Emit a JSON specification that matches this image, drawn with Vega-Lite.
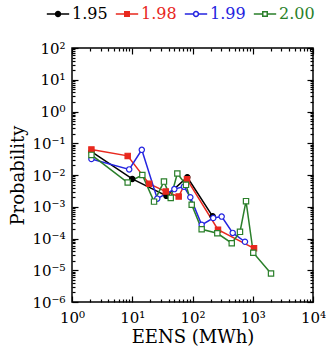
{
  "$schema": "https://vega.github.io/schema/vega-lite/v6.json",
  "width": 241,
  "height": 254,
  "autosize": "none",
  "padding": {"left": 72, "top": 48, "right": 13, "bottom": 53},
  "config": {
    "font": "DejaVu Serif",
    "view": {"stroke": "black", "strokeWidth": 1.5},
    "axis": {
      "grid": false,
      "domain": false,
      "tickColor": "black",
      "tickWidth": 1.2,
      "labelColor": "black",
      "titleColor": "black",
      "labelFontSize": 15,
      "titleFontSize": 18,
      "titleFontWeight": "normal",
      "labelFlush": false,
      "labelOverlap": false
    }
  },
  "data": {
    "values": [
      {"s": "1.95", "x": 2.1, "y": 0.054},
      {"s": "1.95", "x": 10.0, "y": 0.0075},
      {"s": "1.95", "x": 37, "y": 0.0022},
      {"s": "1.95", "x": 82, "y": 0.0085},
      {"s": "1.95", "x": 216, "y": 0.0005},
      {"s": "1.98", "x": 2.1, "y": 0.064},
      {"s": "1.98", "x": 8.4, "y": 0.04},
      {"s": "1.98", "x": 19, "y": 0.0053},
      {"s": "1.98", "x": 36, "y": 0.003},
      {"s": "1.98", "x": 59, "y": 0.0021},
      {"s": "1.98", "x": 81, "y": 0.0073},
      {"s": "1.98", "x": 265, "y": 0.00019},
      {"s": "1.98", "x": 1050, "y": 0.000049},
      {"s": "1.99", "x": 2.1, "y": 0.032},
      {"s": "1.99", "x": 8.9, "y": 0.015},
      {"s": "1.99", "x": 14.4, "y": 0.062},
      {"s": "1.99", "x": 26, "y": 0.0018},
      {"s": "1.99", "x": 50, "y": 0.0036},
      {"s": "1.99", "x": 72, "y": 0.0043},
      {"s": "1.99", "x": 92, "y": 0.002},
      {"s": "1.99", "x": 142, "y": 0.00027},
      {"s": "1.99", "x": 221, "y": 0.00044},
      {"s": "1.99", "x": 305, "y": 0.00049},
      {"s": "1.99", "x": 465, "y": 0.00015},
      {"s": "1.99", "x": 743, "y": 0.000079},
      {"s": "2.00", "x": 2.1, "y": 0.043},
      {"s": "2.00", "x": 8.4, "y": 0.0058},
      {"s": "2.00", "x": 14.7, "y": 0.01},
      {"s": "2.00", "x": 23, "y": 0.00145},
      {"s": "2.00", "x": 33.6, "y": 0.0062},
      {"s": "2.00", "x": 43.5, "y": 0.0019},
      {"s": "2.00", "x": 56, "y": 0.0112},
      {"s": "2.00", "x": 78, "y": 0.0049},
      {"s": "2.00", "x": 97, "y": 0.00115},
      {"s": "2.00", "x": 142, "y": 0.000195},
      {"s": "2.00", "x": 258, "y": 0.000146},
      {"s": "2.00", "x": 448, "y": 0.000071},
      {"s": "2.00", "x": 614, "y": 0.000162},
      {"s": "2.00", "x": 773, "y": 0.0015},
      {"s": "2.00", "x": 1020, "y": 0.0000355},
      {"s": "2.00", "x": 2010, "y": 0.0000079}
    ]
  },
  "layer": [
    {
      "mark": {"type": "line", "strokeWidth": 1.5},
      "encoding": {
        "x": {
          "field": "x", "type": "quantitative",
          "scale": {"type": "log", "domain": [1, 10000]},
          "axis": {
            "title": "EENS (MWh)",
            "values": [1,2,3,4,5,6,7,8,9,10,20,30,40,50,60,70,80,90,100,200,300,400,500,600,700,800,900,1000,2000,3000,4000,5000,6000,7000,8000,9000,10000],
            "tickSize": {"condition": {"test": "abs(log(datum.value)/LN10 - round(log(datum.value)/LN10)) < 0.001", "value": -6}, "value": -3},
            "labelPadding": 14,
            "titlePadding": 0,
            "labelExpr": "abs(log(datum.value)/LN10 - round(log(datum.value)/LN10)) < 0.001 ? '10' + replace(replace(replace(replace(replace(replace(replace(replace('' + round(log(datum.value)/LN10),'-','⁻'),'0','⁰'),'1','¹'),'2','²'),'3','³'),'4','⁴'),'5','⁵'),'6','⁶') : ''"
          }
        },
        "y": {
          "field": "y", "type": "quantitative",
          "scale": {"type": "log", "domain": [0.000001, 100]},
          "axis": {
            "title": "Probability",
            "values": [0.000001,0.000002,0.000003,0.000004,0.000005,0.000006,0.000007,0.000008,0.000009,0.00001,0.00002,0.00003,0.00004,0.00005,0.00006,0.00007,0.00008,0.00009,0.0001,0.0002,0.0003,0.0004,0.0005,0.0006,0.0007,0.0008,0.0009,0.001,0.002,0.003,0.004,0.005,0.006,0.007,0.008,0.009,0.01,0.02,0.03,0.04,0.05,0.06,0.07,0.08,0.09,0.1,0.2,0.3,0.4,0.5,0.6,0.7,0.8,0.9,1,2,3,4,5,6,7,8,9,10,20,30,40,50,60,70,80,90,100],
            "tickSize": {"condition": {"test": "abs(log(datum.value)/LN10 - round(log(datum.value)/LN10)) < 0.001", "value": -6}, "value": -3},
            "labelPadding": 13,
            "titlePadding": 4,
            "labelExpr": "abs(log(datum.value)/LN10 - round(log(datum.value)/LN10)) < 0.001 ? '10' + replace(replace(replace(replace(replace(replace(replace(replace('' + round(log(datum.value)/LN10),'-','⁻'),'0','⁰'),'1','¹'),'2','²'),'3','³'),'4','⁴'),'5','⁵'),'6','⁶') : ''"
          }
        },
        "color": {
          "field": "s", "type": "nominal",
          "scale": {"domain": ["1.95", "1.98", "1.99", "2.00"], "range": ["black", "#e8281e", "#2424e0", "#2a7f2a"]},
          "legend": {
            "orient": "none",
            "legendX": -26,
            "legendY": -46,
            "direction": "horizontal",
            "title": null,
            "padding": 0,
            "labelFontSize": 16,
            "labelOffset": 2,
            "columnPadding": 4,
            "symbolSize": 500,
            "symbolStrokeWidth": 1.5,
            "encode": {
              "symbols": {
                "update": {
                  "shape": {"signal": "datum.value === '1.95' || datum.value === '1.99' ? 'M-1,0H-0.22M0.22,0H1M-0.22,0A0.22,0.22,0,1,0,0.22,0A0.22,0.22,0,1,0,-0.22,0' : 'M-1,0H-0.2M0.2,0H1M-0.2,-0.2H0.2V0.2H-0.2Z'"},
                  "fill": {"signal": "datum.value === '1.95' ? 'black' : datum.value === '1.98' ? '#e8281e' : 'white'"},
                  "stroke": {"scale": "color", "field": "value"},
                  "opacity": {"value": 1}
                }
              },
              "labels": {
                "update": {"fill": {"scale": "color", "field": "value"}}
              }
            }
          }
        }
      }
    },
    {
      "transform": [{"filter": "datum.s === '1.95'"}],
      "mark": {"type": "point", "shape": "circle", "fill": "black", "stroke": "black", "opacity": 1, "strokeWidth": 1.2, "size": 28},
      "encoding": {
        "x": {"field": "x", "type": "quantitative", "axis": null},
        "y": {"field": "y", "type": "quantitative", "axis": null}
      }
    },
    {
      "transform": [{"filter": "datum.s === '1.98'"}],
      "mark": {"type": "point", "shape": "square", "fill": "#e8281e", "stroke": "#e8281e", "opacity": 1, "strokeWidth": 1.2, "size": 28},
      "encoding": {
        "x": {"field": "x", "type": "quantitative", "axis": null},
        "y": {"field": "y", "type": "quantitative", "axis": null}
      }
    },
    {
      "transform": [{"filter": "datum.s === '1.99'"}],
      "mark": {"type": "point", "shape": "circle", "fill": "white", "stroke": "#2424e0", "opacity": 1, "strokeWidth": 1.2, "size": 28},
      "encoding": {
        "x": {"field": "x", "type": "quantitative", "axis": null},
        "y": {"field": "y", "type": "quantitative", "axis": null}
      }
    },
    {
      "transform": [{"filter": "datum.s === '2.00'"}],
      "mark": {"type": "point", "shape": "square", "fill": "white", "stroke": "#2a7f2a", "opacity": 1, "strokeWidth": 1.2, "size": 28},
      "encoding": {
        "x": {"field": "x", "type": "quantitative", "axis": null},
        "y": {"field": "y", "type": "quantitative", "axis": null}
      }
    },
    {
      "mark": {"type": "point", "opacity": 0},
      "encoding": {
        "x": {
          "field": "x", "type": "quantitative",
          "axis": {
            "orient": "top", "title": null, "labels": false,
            "values": [1,2,3,4,5,6,7,8,9,10,20,30,40,50,60,70,80,90,100,200,300,400,500,600,700,800,900,1000,2000,3000,4000,5000,6000,7000,8000,9000,10000],
            "tickSize": {"condition": {"test": "abs(log(datum.value)/LN10 - round(log(datum.value)/LN10)) < 0.001", "value": -6}, "value": -3}
          }
        },
        "y": {
          "field": "y", "type": "quantitative",
          "axis": {
            "orient": "right", "title": null, "labels": false,
            "values": [0.000001,0.000002,0.000003,0.000004,0.000005,0.000006,0.000007,0.000008,0.000009,0.00001,0.00002,0.00003,0.00004,0.00005,0.00006,0.00007,0.00008,0.00009,0.0001,0.0002,0.0003,0.0004,0.0005,0.0006,0.0007,0.0008,0.0009,0.001,0.002,0.003,0.004,0.005,0.006,0.007,0.008,0.009,0.01,0.02,0.03,0.04,0.05,0.06,0.07,0.08,0.09,0.1,0.2,0.3,0.4,0.5,0.6,0.7,0.8,0.9,1,2,3,4,5,6,7,8,9,10,20,30,40,50,60,70,80,90,100],
            "tickSize": {"condition": {"test": "abs(log(datum.value)/LN10 - round(log(datum.value)/LN10)) < 0.001", "value": -6}, "value": -3}
          }
        }
      }
    }
  ],
  "resolve": {"axis": {"x": "independent", "y": "independent"}}
}
